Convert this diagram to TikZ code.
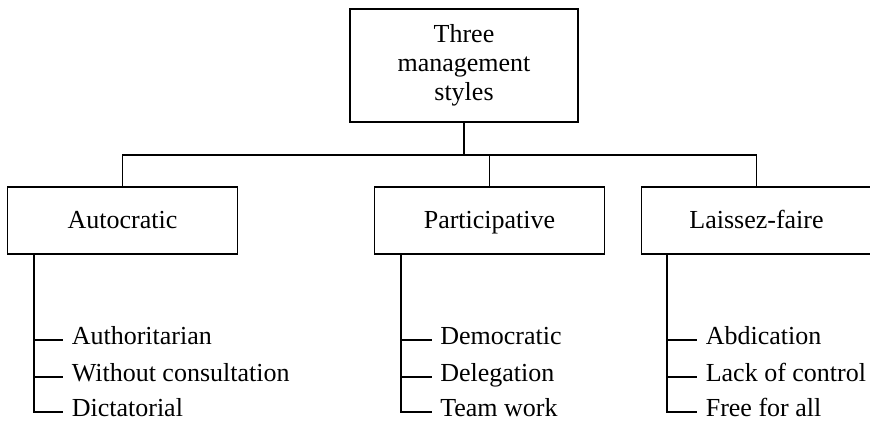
\documentclass[tikz,border=0pt]{standalone}
\usepackage{fontspec}
\setmainfont{Liberation Serif}
\usetikzlibrary{positioning}

\begin{document}
\begin{tikzpicture}[
 x=0.5pt,y=-0.5pt,
 line width=0.8pt,
 font=\fontsize{13}{14.5}\selectfont,
 box/.style={draw,align=center,minimum width=115pt,minimum height=33.5pt,
             inner sep=2pt,text height=10pt,text depth=2.5pt},
 topbox/.style={draw,align=center,minimum width=114pt,minimum height=56.5pt},
 item/.style={anchor=west,inner xsep=4pt,inner ysep=0pt,text height=8pt,text depth=4pt}
]
\useasboundingbox (0,0) rectangle (870,424);
\node[topbox] (top) at (464,65.5) {Three\\management\\styles};
\node[box] (auto) at (122.5,220.5) {Autocratic};
\node[box] (part) at (489.5,220.5) {Participative};
\node[box] (lf) at (756.5,220.5) {Laissez-faire};
\coordinate (bus) at (0,155);
\draw (top.south) -- (top.south |- bus);
\draw (auto.north) |- (bus -| lf.north) -- (lf.north);
\draw (part.north) -- (part.north |- bus);
% autocratic list
\node[item] (a1) at (63,340) {Authoritarian};
\node[item] (a2) at (63,377) {Without consultation};
\node[item] (a3) at (63,412) {Dictatorial};
\coordinate (as) at ([xshift=13.75pt]auto.south west);
\draw (as) |- (a3.west);
\draw (a1.west -| as) -- (a1.west);
\draw (a2.west -| as) -- (a2.west);
% participative list
\node[item] (p1) at (431.5,340) {Democratic};
\node[item] (p2) at (431.5,377) {Delegation};
\node[item] (p3) at (431.5,412) {Team work};
\coordinate (ps) at ([xshift=13.75pt]part.south west);
\draw (ps) |- (p3.west);
\draw (p1.west -| ps) -- (p1.west);
\draw (p2.west -| ps) -- (p2.west);
% laissez-faire list
\node[item] (l1) at (697,340) {Abdication};
\node[item] (l2) at (697,377) {Lack of control};
\node[item] (l3) at (697,412) {Free for all};
\coordinate (ls) at ([xshift=13pt]lf.south west);
\draw (ls) |- (l3.west);
\draw (l1.west -| ls) -- (l1.west);
\draw (l2.west -| ls) -- (l2.west);
\end{tikzpicture}
\end{document}
